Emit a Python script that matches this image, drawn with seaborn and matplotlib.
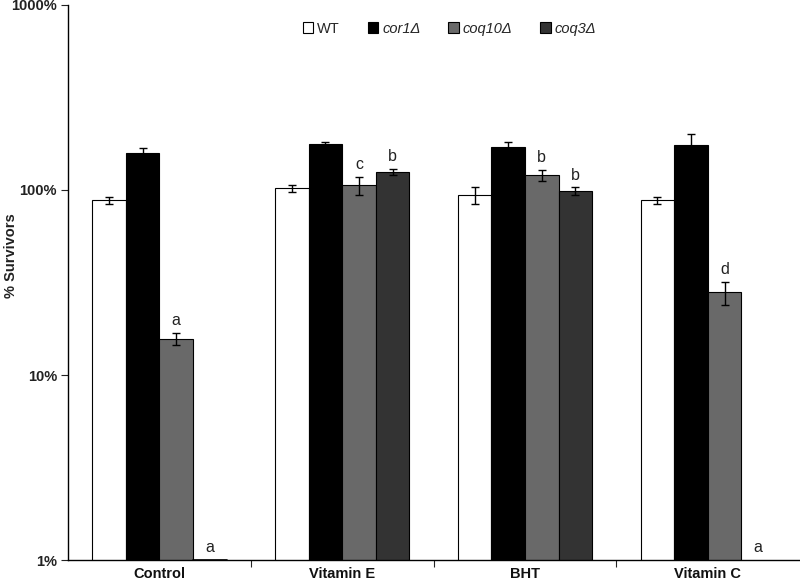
import numpy as np
import pandas as pd
import matplotlib
matplotlib.use("Agg")
import matplotlib.pyplot as plt
import seaborn as sns

groups = ["Control", "Vitamin E", "BHT", "Vitamin C"]
strains = ["WT", "cor1Δ", "coq10Δ", "coq3Δ"]

wt = [88, 102, 94, 88]
cor1 = [158, 177, 171, 174]
coq10 = [15.7, 106, 120, 28]
coq3 = [1.0, 125, 99, np.nan]

wt_err = [4, 4, 10, 4]
cor1_err = [10, 4, 10, 27]
coq10_err = [1.2, 12, 8, 4]
coq3_err = [0, 5, 4.5, 0]

letters_coq10 = ["a", "c", "b", "d"]
letters_coq3 = ["a", "b", "b", "a"]

colors = ["#ffffff", "#000000", "#696969", "#333333"]

values = [wt, cor1, coq10, coq3]
errors = [wt_err, cor1_err, coq10_err, coq3_err]
letters = [None, None, letters_coq10, letters_coq3]

df = pd.DataFrame({
    "group": [g for s in strains for g in groups],
    "strain": [s for s in strains for g in groups],
    "value": [v for vals in values for v in vals],
})

sns.set_style("white")
plt.rcParams["font.family"] = ["Liberation Sans", "DejaVu Sans"]

fig = plt.figure(figsize=(8, 5.85), dpi=100)
ax = fig.add_axes([0.085, 0.0427, 0.914, 0.9488])

sns.barplot(data=df, x="group", y="value", hue="strain", order=groups,
            hue_order=strains, palette=colors, width=0.735, errorbar=None,
            edgecolor="black", linewidth=0.8, saturation=1, ax=ax, legend=True)
ax.set_yscale("log")
ax.set_ylim(1, 1000)
ax.set_xlim(-0.5, 3.5)

# bar width from the drawn bars, used to find each hue's offset
bar_w = None
for cont in ax.containers:
    for patch in cont:
        if patch is not None:
            bar_w = patch.get_width()
            break

for k in range(len(strains)):
    offset = (k - (len(strains) - 1) / 2) * bar_w
    for gi in range(len(groups)):
        cx = gi + offset
        v = values[k][gi]
        e = errors[k][gi]
        if not np.isnan(v) and e > 0:
            ax.errorbar(cx, v, yerr=e, color="black", capsize=3, elinewidth=1,
                        capthick=1, fmt="none")
        if not np.isnan(v) and v <= 1.0:
            # zero-height bar still shows its top edge on the axis
            ax.plot([cx - bar_w / 2, cx + bar_w / 2], [v, v], color="black",
                    lw=1.2, clip_on=False, zorder=5)
        if letters[k] is not None:
            top = (v + e) if not np.isnan(v) else 1.0
            ax.text(cx, top * 1.06, letters[k][gi], ha="center", va="bottom",
                    fontsize=11.5, color="#222222")

# tick labels
ax.set_yticks([1, 10, 100, 1000])
ax.set_yticklabels(["1%", "10%", "100%", "1000%"], fontweight="bold", fontsize=10.5)
ax.yaxis.set_minor_locator(matplotlib.ticker.NullLocator())
ax.tick_params(axis="y", which="major", direction="out", length=5, width=0.8,
               left=True, pad=3, colors="#222222")
ax.set_xticks(range(len(groups)))
ax.set_xticklabels(groups, fontweight="bold", fontsize=10.5)
ax.tick_params(axis="x", which="major", length=0, pad=5, colors="#111111")
ax.set_xticks([0.5, 1.5, 2.5], minor=True)
ax.tick_params(axis="x", which="minor", direction="out", length=5, width=0.8, bottom=True)
ax.set_xlabel("")
ax.set_ylabel("% Survivors", fontweight="bold", fontsize=10.5, color="#222222")
ax.yaxis.set_label_coords(-0.069, 0.548)

for side in ["top", "right"]:
    ax.spines[side].set_visible(False)
for side in ["left", "bottom"]:
    ax.spines[side].set_color("black")
    ax.spines[side].set_linewidth(1)

handles, labels = ax.get_legend_handles_labels()
ax.get_legend().remove()
leg = fig.legend(handles, labels, loc="center", bbox_to_anchor=(0.562, 0.951),
                 ncol=4, frameon=False, fontsize=10.5, handlelength=0.7,
                 handleheight=0.7, handletextpad=0.3, columnspacing=1.9)
for t in leg.get_texts()[1:]:
    t.set_style("italic")

fig.savefig("out.png", dpi=100)
